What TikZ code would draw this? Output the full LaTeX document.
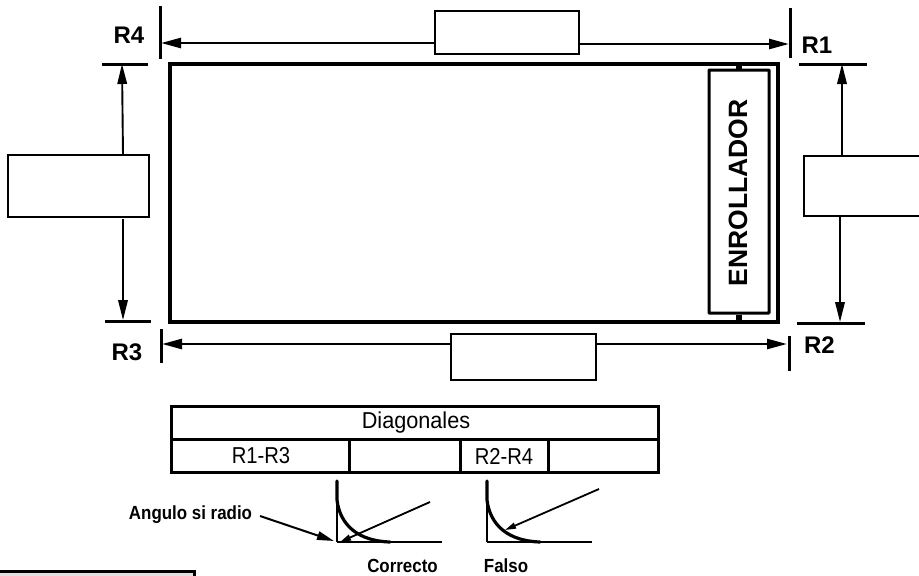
\documentclass[tikz,border=0pt]{standalone}
\usepackage{fontspec}
\setmainfont{Liberation Sans}
\usetikzlibrary{arrows.meta}
\tikzset{
  dimbox/.style={draw=black,line width=1.5pt,fill=white,rectangle,inner sep=0pt},
  dimtick/.style={line width=3pt},
  dimline/.style={line width=2.6pt,-{Triangle[length=20pt,width=10pt]}},
  vdim/.style={line width=1.9pt,-{Triangle[length=20pt,width=9.5pt]}},
  roller/.style={draw=black,line width=3pt,rectangle,inner sep=0pt,rounded corners=0.6pt},
  rlabel/.style={font=\bfseries\fontsize{24}{26}\selectfont,inner sep=0pt},
  cellabel/.style={font=\fontsize{23}{25}\selectfont,inner sep=0pt,xscale=0.88},
  blabel/.style={font=\bfseries\fontsize{19}{20}\selectfont,inner sep=0pt,xscale=0.89},
  tablerule/.style={line width=3pt},
  axisline/.style={line width=2pt},
  arcstroke/.style={line width=3.2pt},
  pointer/.style={line width=1.8pt,-{Triangle[length=11pt,width=6pt]}},
}
\begin{document}
\begin{tikzpicture}[x=1pt,y=-1pt]
\useasboundingbox (0,0) rectangle (919,576);
\clip (0,0) rectangle (919,576);

% main frame and roller
\node[draw=black,line width=4.2pt,rectangle,inner sep=0pt,minimum width=608pt,minimum height=258pt] (frame) at (474,193) {};
\node[roller,minimum width=60pt,minimum height=243pt] (roller) at (739,191.5) {};
\coordinate (stubT) at (739,64);
\coordinate (stubB) at (739,322);
\draw[line width=6pt] (stubT) -- (roller.north);
\draw[line width=6pt] (stubB) -- (roller.south);
\node[font=\bfseries\fontsize{26.5}{28}\selectfont,inner sep=0pt,rotate=90] (enr) at (738,193) {ENROLLADOR};

% top dimension
\coordinate (t4a) at (160,6); \coordinate (t4b) at (160,59);
\coordinate (t1a) at (790,8); \coordinate (t1b) at (790,58);
\draw[dimtick] (t4a) -- (t4b);
\draw[dimtick] (t1a) -- (t1b);
\node[dimbox,minimum width=144pt,minimum height=43pt] (topbox) at (507,32.5) {};
\coordinate (tL) at (161,43); \coordinate (tR) at (789,44);
\draw[dimline] (topbox.west |- tL) -- (tL);
\draw[dimline] (topbox.east |- tR) -- (tR);

% bottom dimension
\coordinate (t3a) at (161,329); \coordinate (t3b) at (161,363);
\coordinate (t2a) at (789,336); \coordinate (t2b) at (789,371);
\draw[dimtick] (t3a) -- (t3b);
\draw[dimtick] (t2a) -- (t2b);
\node[dimbox,minimum width=145pt,minimum height=46pt] (botbox) at (523.5,357) {};
\coordinate (bL) at (162,344); \coordinate (bR) at (787,344);
\draw[dimline] (botbox.west |- bL) -- (bL);
\draw[dimline] (botbox.east |- bR) -- (bR);

% left dimension
\coordinate (l1a) at (102,64); \coordinate (l1b) at (148,64);
\coordinate (l2a) at (105,321); \coordinate (l2b) at (151,321);
\draw[dimtick] (l1a) -- (l1b);
\draw[dimtick] (l2a) -- (l2b);
\node[dimbox,minimum width=141pt,minimum height=62pt] (leftbox) at (78.5,186) {};
\coordinate (lT) at (122,64); \coordinate (lB) at (123,320);
\coordinate (lT0) at (123,155); \coordinate (lB0) at (123,219);
\draw[vdim] (lT0) -- (lT);
\draw[vdim] (lB0) -- (lB);

% right dimension
\coordinate (r1a) at (799,64); \coordinate (r1b) at (867,64);
\coordinate (r2a) at (797,323); \coordinate (r2b) at (865,323);
\draw[dimtick] (r1a) -- (r1b);
\draw[dimtick] (r2a) -- (r2b);
\node[dimbox,minimum width=132pt,minimum height=60pt] (rightbox) at (870,186) {};
\coordinate (rT) at (842,64); \coordinate (rB) at (840,322);
\draw[vdim] (rightbox.north -| rT) -- (rT);
\draw[vdim] (rightbox.south -| rB) -- (rB);

% corner labels
\node[rlabel] (R4) at (129,35) {R4};
\node[rlabel] (R1) at (817,45) {R1};
\node[rlabel] (R2) at (819.5,345.5) {R2};
\node[rlabel] (R3) at (127,352) {R3};

% table
\node[draw=black,line width=3pt,rectangle,inner sep=0pt,minimum width=487pt,minimum height=66pt] (table) at (414.5,439) {};
\coordinate (ml) at (171,439); \coordinate (mr) at (658,439);
\draw[tablerule] (ml) -- (mr);
\foreach \n/\x in {a/349,b/460,c/548}{
  \coordinate (v\n t) at (\x,439);
  \coordinate (v\n b) at (\x,472);
  \draw[tablerule] (v\n t) -- (v\n b);
}
\node[cellabel,xscale=1.07] (diag) at (416,422.5) {Diagonales};
\node[cellabel] (r13) at (261,456) {R1-R3};
\node[cellabel] (r24) at (504,456) {R2-R4};

% correct detail
\coordinate (c0) at (337,481); \coordinate (c1) at (337,500);
\coordinate (c2) at (337,542); \coordinate (c3) at (442,542); \coordinate (c4) at (390,542);
\coordinate (cs) at (430,502); \coordinate (ce) at (340,542);
\draw[axisline] (c2) -- (c1);
\draw[axisline] (c2) -- (c3);
\draw[arcstroke,line cap=round] (c0) -- (c1) .. controls (340,525) and (358,541) .. (c4);
\draw[pointer] (cs) -- (ce);

% false detail
\coordinate (f0) at (487,481); \coordinate (f1) at (487,500);
\coordinate (f2) at (487,542); \coordinate (f3) at (592,542); \coordinate (f4) at (540,542);
\coordinate (fs) at (599,489); \coordinate (fe) at (505,530);
\draw[axisline] (f2) -- (f1);
\draw[axisline] (f2) -- (f3);
\draw[arcstroke,line cap=round] (f0) -- (f1) .. controls (490,525) and (508,541) .. (f4);
\draw[pointer] (fs) -- (fe);

% labels below
\node[blabel] (ang) at (190.5,514.5) {Angulo si radio};
\coordinate (angs) at (260,516); \coordinate (ange) at (334,541);
\draw[line width=2pt,-{Triangle[length=17pt,width=8.5pt]}] (angs) -- (ange);
\node[blabel] (cor) at (402.5,566) {Correcto};
\node[blabel] (fal) at (506,566) {Falso};

% clipped box at lower left
\node[draw=black,line width=3pt,fill=black!12,rectangle,inner sep=0pt,minimum width=220pt,minimum height=40pt] (cut) at (84,591) {};
\end{tikzpicture}
\end{document}
